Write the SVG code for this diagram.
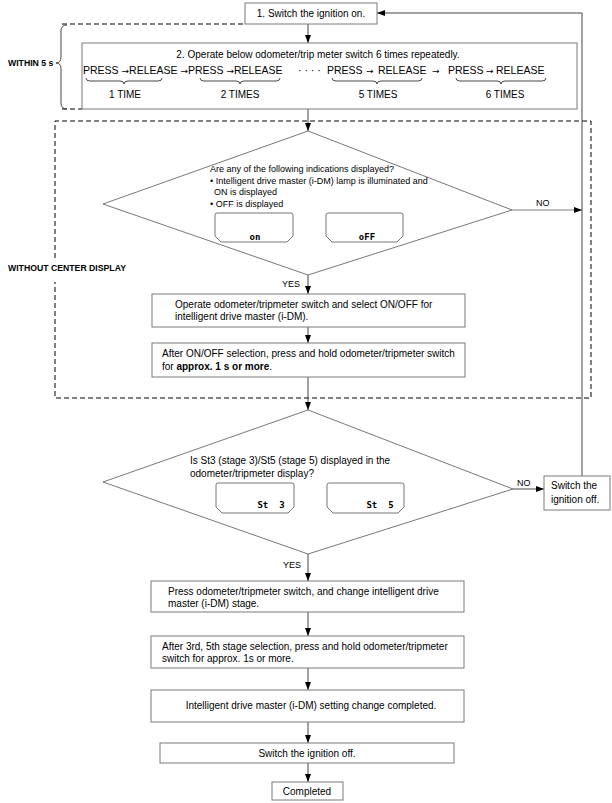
<svg xmlns="http://www.w3.org/2000/svg" width="612" height="803" viewBox="0 0 612 803">
<defs>
<marker id="ah" markerUnits="userSpaceOnUse" markerWidth="8" markerHeight="6" refX="8" refY="3" orient="auto">
<path d="M0,0 L8,3 L0,6 Z" fill="#000"/>
</marker>
<style>
text{font-family:"Liberation Sans",Arial,sans-serif;fill:#000}
.t{font-size:10px}
.r{font-size:10.5px}
.s{font-size:9px}
.b{font-size:8.7px;font-weight:bold}
.m{text-anchor:middle}
.ar{font-family:"DejaVu Sans",sans-serif;font-size:9px}
.box{fill:#fff;stroke:#7a7a7a;stroke-width:1}
.dia{fill:none;stroke:#555;stroke-width:0.8}
.lcd{fill:#fff;stroke:#666;stroke-width:0.9}
.seg{font-family:"DejaVu Sans Mono",monospace;font-size:9px;font-weight:bold;text-anchor:middle}
.dash{fill:none;stroke:#000;stroke-width:1;stroke-dasharray:5,3}
.c{fill:none;stroke:#444;stroke-width:1}
.br{fill:none;stroke:#333;stroke-width:0.9}
</style>
</defs>
<rect width="612" height="803" fill="#fff"/>

<g id="within5s">
<path class="dash" d="M62,24 H245 M62,109 H82" stroke="#555"/>
<path class="br" d="M67,25 Q61,25 61,31 V57 Q61,63 56,63 Q61,63 61,69 V103 Q61,109 67,109"/>
<text class="b" x="8" y="66">WITHIN 5 s</text>
</g>

<g id="withoutCenter">
<path class="dash" d="M55,258 V121 H591 V398 H55 V282"/>
<text class="b" x="8" y="271">WITHOUT CENTER DISPLAY</text>
</g>

<g id="connectors">
<path class="c" d="M308,24 V43" marker-end="url(#ah)"/>
<path class="c" d="M308,109 V131" marker-end="url(#ah)"/>
<path class="c" d="M308,275 V294" marker-end="url(#ah)"/>
<path class="c" d="M308,327 V343" marker-end="url(#ah)"/>
<path class="c" d="M308,377 V410" marker-end="url(#ah)"/>
<path class="c" d="M308,554 V581" marker-end="url(#ah)"/>
<path class="c" d="M308,612 V636" marker-end="url(#ah)"/>
<path class="c" d="M308,668 V690" marker-end="url(#ah)"/>
<path class="c" d="M308,722 V743" marker-end="url(#ah)"/>
<path class="c" d="M308,763 V782" marker-end="url(#ah)"/>
<path d="M512,210 H582" fill="none" stroke="#aaa" stroke-width="1.3" marker-end="url(#ah)"/>
<path class="c" d="M513,489 H544" marker-end="url(#ah)"/>
<path class="c" d="M582,476 V13 H377" marker-end="url(#ah)"/>
<text class="s" x="536" y="206">NO</text>
<text class="s" x="517" y="486">NO</text>
<text class="s" x="282" y="287">YES</text>
<text class="s" x="283" y="568">YES</text>
</g>

<g id="n1">
<rect class="box" x="245" y="3" width="132" height="21"/>
<text class="t m" x="311" y="17">1. Switch the ignition on.</text>
</g>

<g id="n2">
<rect class="box" x="82" y="43" width="495" height="66"/>
<text class="t m" x="318" y="58">2. Operate below odometer/trip meter switch 6 times repeatedly.</text>
<text class="r" x="83" y="74">PRESS <tspan class="ar">→</tspan>RELEASE <tspan class="ar">→</tspan>PRESS <tspan class="ar">→</tspan>RELEASE</text>
<text class="r" x="298" y="74">· · · ·</text>
<text class="r" x="327" y="74">PRESS</text>
<text class="ar" x="366" y="74">→</text>
<text class="r" x="378" y="74">RELEASE</text>
<text class="ar" x="432" y="74">→</text>
<text class="r" x="448" y="74">PRESS</text>
<text class="ar" x="486" y="74">→</text>
<text class="r" x="496" y="74">RELEASE</text>
<path class="br" d="M86,78 Q86,81 90,81 H120 Q124,81 124,84 Q124,81 128,81 H158 Q162,81 162,78"/>
<path class="br" d="M200,78 Q200,81 204,81 H236 Q240,81 240,84 Q240,81 244,81 H276 Q280,81 280,78"/>
<path class="br" d="M332,78 Q332,81 336,81 H373 Q377,81 377,84 Q377,81 381,81 H418 Q422,81 422,78"/>
<path class="br" d="M456,78 Q456,81 460,81 H497 Q501,81 501,84 Q501,81 505,81 H542 Q546,81 546,78"/>
<text class="t m" x="125" y="98">1 TIME</text>
<text class="t m" x="240" y="98">2 TIMES</text>
<text class="t m" x="378" y="98">5 TIMES</text>
<text class="t m" x="505" y="98">6 TIMES</text>
</g>

<g id="d1">
<polygon class="dia" points="308,131 512,210 308,275 103,204"/>
<text class="s" x="210" y="172">Are any of the following indications displayed?</text>
<text class="s" x="210" y="184">• Intelligent drive master (i-DM) lamp is illuminated and</text>
<text class="s" x="214" y="195">ON is displayed</text>
<text class="s" x="210" y="207">• OFF is displayed</text>
<path class="lcd" d="M215,215 Q215,213 217,213 H291 Q293,213 293,215 V236 L287,242 H221 L215,236 Z"/>
<path class="lcd" d="M326,215 Q326,213 328,213 H401 Q403,213 403,215 V236 L397,242 H332 L326,236 Z"/>
<text class="seg" x="255" y="240">on</text>
<text class="seg" x="367" y="240">oFF</text>
</g>

<g id="n3">
<rect class="box" x="152" y="294" width="313" height="33"/>
<text class="t" x="175" y="308">Operate odometer/tripmeter switch and select ON/OFF for</text>
<text class="t" x="175" y="320">intelligent drive master (i-DM).</text>
</g>

<g id="n4">
<rect class="box" x="152" y="343" width="313" height="34"/>
<text class="t" x="162" y="357">After ON/OFF selection, press and hold odometer/tripmeter switch</text>
<text class="t" x="162" y="370">for <tspan font-weight="bold">approx. 1 s or more</tspan>.</text>
</g>

<g id="d2">
<polygon class="dia" points="308,410 513,489 308,554 103,482"/>
<text class="t" x="190" y="464">Is St3 (stage 3)/St5 (stage 5) displayed in the</text>
<text class="t" x="190" y="477">odometer/tripmeter display?</text>
<path class="lcd" d="M216,485 Q216,483 218,483 H292 Q294,483 294,485 V507 L288,513 H222 L216,507 Z"/>
<path class="lcd" d="M327,485 Q327,483 329,483 H402 Q404,483 404,485 V507 L398,513 H333 L327,507 Z"/>
<text class="seg" x="271" y="508" xml:space="preserve">St  3</text>
<text class="seg" x="380" y="508" xml:space="preserve">St  5</text>
</g>

<g id="n5">
<rect class="box" x="544" y="476" width="66" height="34"/>
<text class="t" x="551" y="489">Switch the</text>
<text class="t" x="551" y="503">ignition off.</text>
</g>

<g id="n6">
<rect class="box" x="151" y="581" width="313" height="31"/>
<text class="t" x="168" y="595">Press odometer/tripmeter switch, and change intelligent drive</text>
<text class="t" x="168" y="607">master (i-DM) stage.</text>
</g>

<g id="n7">
<rect class="box" x="151" y="636" width="313" height="32"/>
<text class="t" x="162" y="650">After 3rd, 5th stage selection, press and hold odometer/tripmeter</text>
<text class="t" x="162" y="662">switch for approx. 1s or more.</text>
</g>

<g id="n8">
<rect class="box" x="151" y="690" width="313" height="32"/>
<text class="t m" x="311" y="709">Intelligent drive master (i-DM) setting change completed.</text>
</g>

<g id="n9">
<rect class="box" x="160" y="743" width="294" height="20"/>
<text class="t m" x="307" y="757">Switch the ignition off.</text>
</g>

<g id="n10">
<rect class="box" x="272" y="782" width="71" height="18"/>
<text class="t m" x="307" y="795">Completed</text>
</g>
</svg>
